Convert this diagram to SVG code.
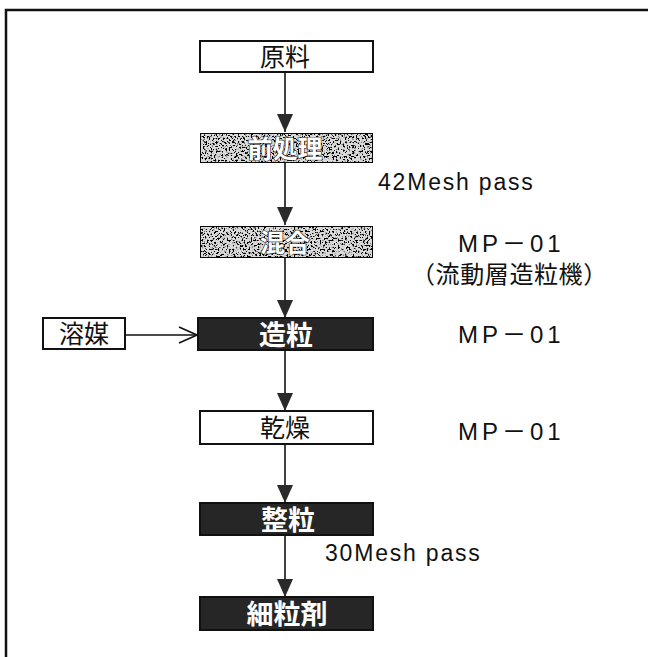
<svg xmlns="http://www.w3.org/2000/svg" width="648" height="657" viewBox="0 0 648 657">
<style>
.box{stroke:#111;stroke-width:2}
.white{fill:#fff}
.light{fill:#dadada}
.dark{fill:#262626}
.t{font-family:"Noto Sans CJK JP","Noto Sans CJK SC",sans-serif;font-size:25px;text-anchor:middle;dominant-baseline:central}
.tb{fill:#111}
.tl{fill:#fff;stroke:#222;stroke-width:1.2;paint-order:stroke;font-weight:bold}
.td{fill:#fff;font-weight:bold;font-size:27px}
.lbl{font-family:"Liberation Sans","Noto Sans CJK JP",sans-serif;font-size:23px;fill:#111;letter-spacing:1.8px}
.mp{font-family:"Liberation Sans","Noto Sans CJK JP",sans-serif;font-size:24px;fill:#111;letter-spacing:4px}
.cj{font-family:"Noto Sans CJK JP","Noto Sans CJK SC",sans-serif;font-size:24px;fill:#111;letter-spacing:0.6px}
.ln{stroke:#111;stroke-width:1.6;fill:none}
</style>
<defs>
<filter id="grainL" x="0" y="0" width="1" height="1">
<feTurbulence type="fractalNoise" baseFrequency="0.55" numOctaves="2" seed="3" result="n"/>
<feColorMatrix in="n" type="matrix" values="0 0 0 0 0  0 0 0 0 0  0 0 0 0 0  0 0 0 -10 4.8" result="m"/>
<feComposite in="m" in2="SourceGraphic" operator="in" result="spk"/>
<feMerge><feMergeNode in="SourceGraphic"/><feMergeNode in="spk"/></feMerge>
</filter>
<marker id="ah" viewBox="0 0 18 16" refX="18" refY="8" markerWidth="18" markerHeight="16" markerUnits="userSpaceOnUse" orient="auto">
<path d="M0,0 L18,8 L0,16 Z" fill="#2a2a2a"/>
</marker>
<marker id="oh" viewBox="0 0 20 18" refX="19" refY="9" markerWidth="20" markerHeight="18" markerUnits="userSpaceOnUse" orient="auto">
<path d="M1,1 L19,9 L1,17" fill="none" stroke="#111" stroke-width="1.6"/>
</marker>
</defs>
<rect width="648" height="657" fill="#fff"/>
<path d="M6,700 L6,10 L700,10" fill="none" stroke="#111" stroke-width="2.5"/>

<g id="connectors">
<line class="ln" x1="285" y1="72" x2="285" y2="132" marker-end="url(#ah)"/>
<line class="ln" x1="285" y1="163" x2="285" y2="225" marker-end="url(#ah)"/>
<line class="ln" x1="285" y1="258" x2="285" y2="318" marker-end="url(#ah)"/>
<line class="ln" x1="285" y1="350" x2="285" y2="411" marker-end="url(#ah)"/>
<line class="ln" x1="285" y1="444" x2="285" y2="503" marker-end="url(#ah)"/>
<line class="ln" x1="285" y1="535" x2="285" y2="597" marker-end="url(#ah)"/>
<line class="ln" x1="125" y1="335" x2="197" y2="335" marker-end="url(#oh)"/>
</g>

<g id="n-genryo">
<rect class="box white" x="200" y="41" width="173" height="31"/>
<text class="t tb" x="285" y="55">原料</text>
</g>
<g id="n-maeshori">
<rect class="box light" x="200" y="133" width="173" height="30" filter="url(#grainL)"/>
<text class="t tl" x="285" y="147">前処理</text>
</g>
<g id="n-kongo">
<rect class="box light" x="200" y="226" width="173" height="32" filter="url(#grainL)"/>
<text class="t tl" x="285" y="241">混合</text>
</g>
<g id="n-zoryu">
<rect class="box dark" x="198" y="318" width="175" height="32"/>
<text class="t td" x="286" y="333">造粒</text>
</g>
<g id="n-yobai">
<rect class="box white" x="43" y="318" width="82" height="31"/>
<text class="t tb" x="84" y="332">溶媒</text>
</g>
<g id="n-kanso">
<rect class="box white" x="200" y="411" width="173" height="33"/>
<text class="t tb" x="285" y="426">乾燥</text>
</g>
<g id="n-seiryu">
<rect class="box dark" x="200" y="503" width="173" height="32"/>
<text class="t td" x="288" y="518">整粒</text>
</g>
<g id="n-sairyuzai">
<rect class="box dark" x="200" y="597" width="173" height="33"/>
<text class="t td" x="287" y="612">細粒剤</text>
</g>

<g id="labels">
<text class="lbl" x="378" y="190">42Mesh pass</text>
<text class="mp" x="458" y="252">MP－01</text>
<text class="cj" x="411" y="283">（流動層造粒機）</text>
<text class="mp" x="458" y="343">MP－01</text>
<text class="mp" x="458" y="440">MP－01</text>
<text class="lbl" x="325" y="561">30Mesh pass</text>
</g>
</svg>
